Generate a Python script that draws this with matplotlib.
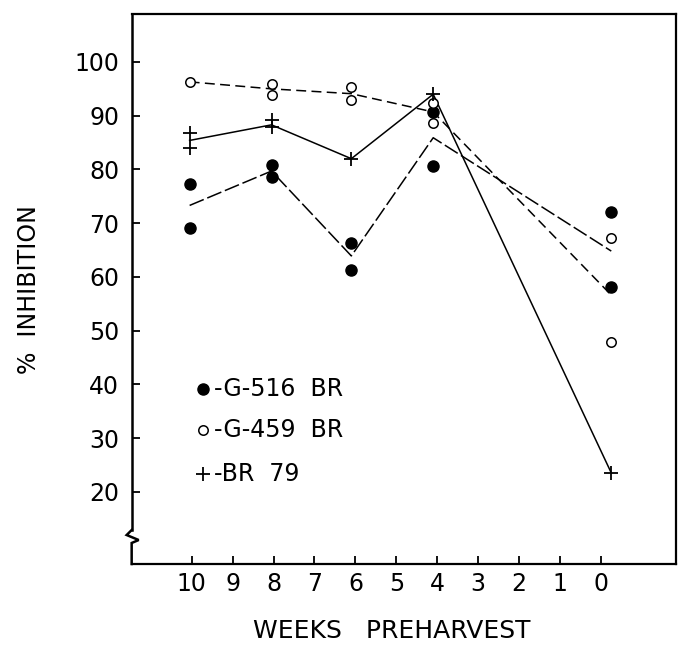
import matplotlib
matplotlib.use("Agg")
import matplotlib.pyplot as plt
from matplotlib.lines import Line2D

plt.rcParams['font.family'] = ['DejaVu Sans']

# ---- data ----
weeks = [10, 8, 6, 4, 0]                      # tick categories
week_pos = [10.05, 8.05, 6.1, 4.1, -0.25]     # where the marks sit along the axis

g516_rep = [[77.2, 69.1], [80.8, 78.6], [66.3, 61.2], [90.6, 80.7], [72.0, 58.1]]
g516_mean = [73.3, 79.7, 63.9, 85.9, 64.8]

g459_rep = [[96.3], [95.9, 93.8], [95.3, 92.9], [92.3, 88.7], [67.3, 47.8]]
g459_mean = [96.3, 95.0, 94.1, 90.7, 56.6]

br79_rep = [[86.7, 83.9], [89.2, 87.9], [82.0], [94.0], [23.5]]
br79_mean = [85.4, 88.3, 82.0, 94.0, 23.5]

xticks = list(range(0, 11))
yticks = [20, 30, 40, 50, 60, 70, 80, 90, 100]
legend_labels = ["-G-516  BR", "-G-459  BR", "-BR  79"]

FS = 17

fig = plt.figure(figsize=(6.78, 6.45), dpi=100)
ax = fig.add_axes([0.1942, 0.1256, 0.8028, 0.8524])

# mean lines
ax.plot(week_pos, g516_mean, color='black', lw=1.1, linestyle=(0, (10, 2.5)))
ax.plot(week_pos, g459_mean, color='black', lw=1.1, linestyle=(0, (6.5, 3.5)))
ax.plot(week_pos, br79_mean, color='black', lw=1.1, linestyle='-')

# replicate points
def scatter(reps, **kw):
    xs, ys = [], []
    for x, vals in zip(week_pos, reps):
        for v in vals:
            xs.append(x)
            ys.append(v)
    ax.plot(xs, ys, linestyle='none', **kw)

FILLED = dict(marker='o', ms=8, mfc='black', mec='black', mew=1)
OPEN = dict(marker='o', ms=6.8, mfc='white', mec='black', mew=1.1)
PLUS = dict(marker='+', ms=10, mec='black', mew=1.3)

scatter(g516_rep, **FILLED)
scatter(g459_rep, **OPEN)
scatter(br79_rep, **PLUS)

# axes
ax.set_xlim(11.466, -1.83)
ax.set_ylim(6.55, 108.9)
ax.set_xticks(xticks)
ax.set_xticklabels([str(v) for v in xticks])
ax.set_yticks(yticks)
ax.set_yticklabels([str(v) for v in yticks])
ax.tick_params(axis='both', direction='in', labelsize=FS, width=1.3, color='black')
ax.tick_params(axis='y', length=6, pad=9)
ax.tick_params(axis='x', length=6, pad=6)

for s in ['top', 'right', 'bottom']:
    ax.spines[s].set_linewidth(1.6)
ax.spines['left'].set_visible(False)

# left spine with axis break zigzag
tr = ax.transAxes
px = 1.0 / 544.3
ax.add_line(Line2D([0, 0], [1, 0.0618], transform=tr, color='black', lw=1.8,
                   clip_on=False, solid_capstyle='projecting'))
ax.add_line(Line2D([0, -5 * px, 7 * px, 0, 0],
                   [0.0618, 0.0527, 0.0436, 0.0382, 0.0],
                   transform=tr, color='black', lw=1.8, clip_on=False,
                   solid_joinstyle='miter', solid_capstyle='projecting'))

ax.set_xlabel("WEEKS   PREHARVEST", fontsize=FS + 1, labelpad=16, x=0.478)
ax.set_ylabel("%  INHIBITION", fontsize=FS, labelpad=24)

# legend drawn inside the plot
leg_y = [0.3176, 0.2444, 0.1631]
ax.plot([0.1314], [leg_y[0]], transform=tr, **FILLED)
ax.plot([0.1314], [leg_y[1]], transform=tr, **OPEN)
ax.plot([0.1314], [leg_y[2]], transform=tr, **PLUS)
for y, lab in zip(leg_y, legend_labels):
    ax.text(0.152, y, lab, transform=tr, fontsize=FS, va='center', ha='left')

fig.savefig("out.png", dpi=100)
